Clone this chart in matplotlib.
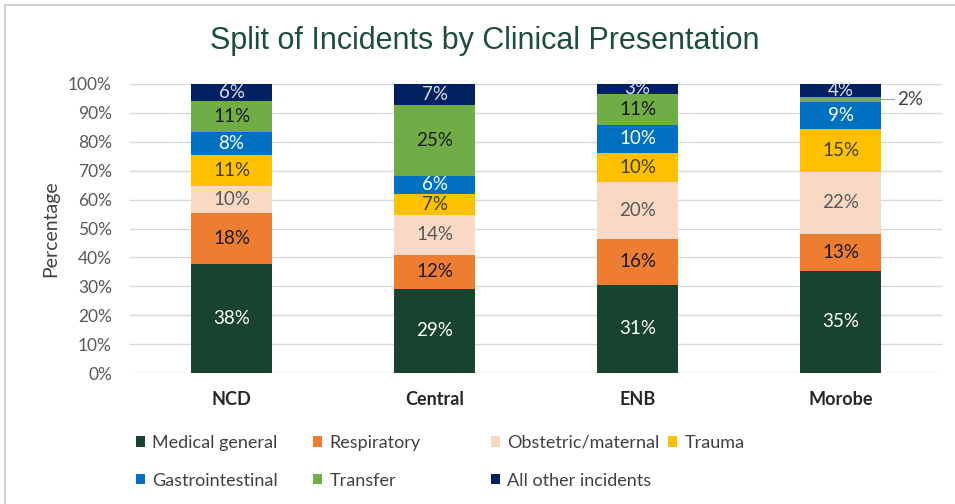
import matplotlib
matplotlib.use("Agg")
import matplotlib.pyplot as plt
from matplotlib.patches import Rectangle, Patch
import numpy as np

regions = ["NCD", "Central", "ENB", "Morobe"]
series_names = ["Medical general", "Respiratory", "Obstetric/maternal", "Trauma",
                "Gastrointestinal", "Transfer", "All other incidents"]
medical_general = [37.6, 29.2, 30.6, 35.3]
respiratory = [17.6, 11.8, 15.8, 12.8]
obstetric_maternal = [9.6, 13.6, 19.8, 21.6]
trauma = [10.7, 7.3, 10.0, 14.7]
gastrointestinal = [7.9, 6.4, 9.6, 9.3]
transfer = [10.6, 24.6, 10.9, 1.9]
all_other = [6.0, 7.1, 3.3, 4.4]
yticks = [0, 10, 20, 30, 40, 50, 60, 70, 80, 90, 100]

series_values = [medical_general, respiratory, obstetric_maternal, trauma,
                 gastrointestinal, transfer, all_other]
colors = ["#17432F", "#ED7D31", "#FAD9C4", "#FFC000", "#0070C0", "#70AD47", "#002060"]
label_colors = ["#FFFFFF", "#1A1A1A", "#595959", "#404040", "#FFFFFF", "#1A1A1A", "#D9E2F3"]

FONT = ["Lato", "DejaVu Sans"]
plt.rcParams["font.family"] = FONT

fig = plt.figure(figsize=(9.55, 5.04), dpi=100)
ax = fig.add_axes([130/955, 1-373/504, 812/955, 289/504])

x = np.arange(len(regions))
bottom = np.zeros(len(regions))
containers = []
for name, vals, col, lc in zip(series_names, series_values, colors, label_colors):
    vals = np.array(vals, dtype=float)
    bars = ax.bar(x, vals, bottom=bottom, width=0.4, color=col, label=name, zorder=3)
    containers.append(bars)
    for i, (b, v) in enumerate(zip(bars, vals)):
        cy = bottom[i] + v / 2
        if v < 2.5 and name == "Transfer":
            ax.annotate(f"{v:.0f}%", xy=(x[i] + 0.2, cy), xytext=(x[i] + 0.28, cy),
                        ha="left", va="center", fontsize=13.5, color="#404040",
                        arrowprops=dict(arrowstyle="-", color="#A6A6A6", lw=0.8,
                                        shrinkA=0, shrinkB=0))
        else:
            ax.text(x[i], cy, f"{v:.0f}%", ha="center", va="center",
                    fontsize=13.5, color=lc, zorder=4)
    bottom += vals

ax.set_xlim(-0.5, len(regions) - 0.5)
ax.set_ylim(0, 100)
ax.set_yticks(yticks)
ax.set_yticklabels([f"{t}%" for t in yticks], color="#595959", fontsize=12.5)
ax.set_xticks(x)
ax.set_xticklabels(regions, fontsize=13, fontweight="bold", color="#262626")
ax.tick_params(axis="both", length=0)
ax.tick_params(axis="x", pad=13)
ax.tick_params(axis="y", pad=13)
ax.grid(axis="y", color="#D9D9D9", lw=1, zorder=0)
for s in ax.spines.values():
    s.set_visible(False)
ax.set_ylabel("Percentage", fontsize=14, color="#404040", labelpad=6)

fig.text(485/955, 1-41/504, "Split of Incidents by Clinical Presentation",
         ha="center", va="center", fontsize=22, color="#1E4D3A",
         family=["Liberation Sans Narrow", "Liberation Sans", "DejaVu Sans"])

# legend: four columns placed at fixed positions, two rows
col_x = [136, 313, 491, 668]
layout = [[0, 4], [1, 5], [2, 6], [3]]
for cx, idxs in zip(col_x, layout):
    handles = [Patch(facecolor=colors[k], edgecolor="none") for k in idxs]
    labels = [series_names[k] for k in idxs]
    leg = fig.legend(handles, labels, loc="upper left",
                     bbox_to_anchor=(cx/955, 1-435/504), frameon=False,
                     fontsize=13, handlelength=0.5, handleheight=0.5,
                     handletextpad=0.4, labelspacing=1.2, borderaxespad=0,
                     borderpad=0)
    for t in leg.get_texts():
        t.set_color("#404040")

fig.patches.append(Rectangle((5/955, -0.2), 1.2, 1.2 - 5/504 + 0.0,
                             transform=fig.transFigure, fill=False,
                             edgecolor="#D0D0D0", lw=1.5))

fig.savefig("out.png", dpi=100, facecolor="white")
